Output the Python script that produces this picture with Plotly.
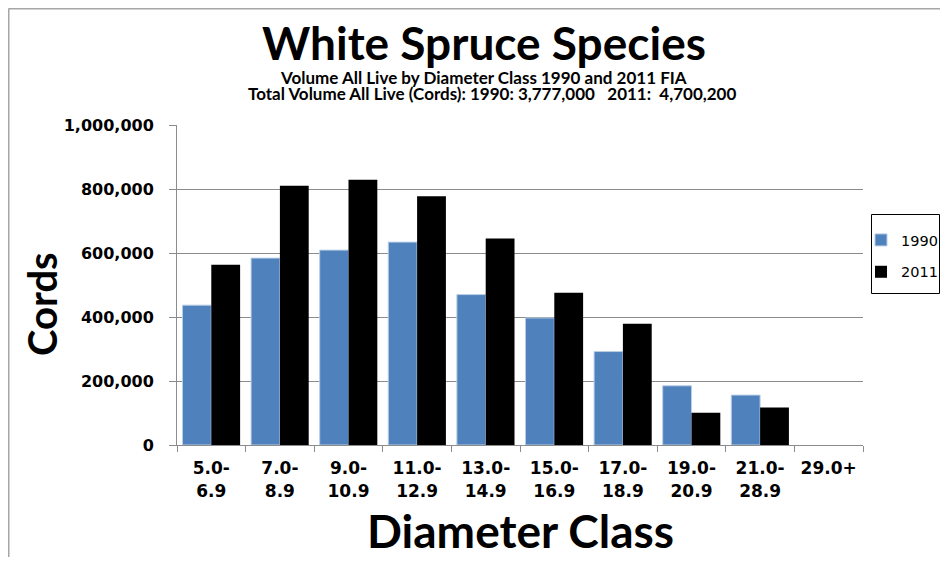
import plotly.graph_objects as go

categories = ["5.0-<br>6.9", "7.0-<br>8.9", "9.0-<br>10.9", "11.0-<br>12.9", "13.0-<br>14.9",
              "15.0-<br>16.9", "17.0-<br>18.9", "19.0-<br>20.9", "21.0-<br>28.9", "29.0+"]
vol_1990 = [437000, 584000, 609000, 634000, 470000, 397000, 292000, 185000, 156000, 0]
vol_2011 = [563000, 810000, 829000, 777000, 645000, 476000, 379000, 101000, 117000, 0]
y_ticks = [0, 200000, 400000, 600000, 800000, 1000000]
y_tick_text = ["0", "200,000", "400,000", "600,000", "800,000", "1,000,000"]

W, H = 932, 549
OFF = 8  # page body margin
L, R, T, B = 169, 77, 117, 112
PW, PH = W - L - R, H - T - B

def px(x):  # screen x -> paper
    return (x - OFF - L) / PW

def py(y):  # screen y -> paper
    return (H - B - (y - OFF)) / PH

TITLE_FONT = "Lato"
TICK_FONT = "DejaVu Sans"

fig = go.Figure()
fig.add_trace(go.Bar(x=categories, y=vol_1990, name="1990", legendgroup="a",
                     marker=dict(color="#4F81BD",
                                 line=dict(color="#B9CDE5", width=[1 if v > 0 else 0 for v in vol_1990]))))
fig.add_trace(go.Bar(x=categories, y=vol_2011, name="2011", legendgroup="b",
                     marker=dict(color="#000000", line=dict(width=0))))

fig.update_layout(
    width=W, height=H,
    margin=dict(l=L, r=R, t=T, b=B, autoexpand=False),
    paper_bgcolor="white", plot_bgcolor="white",
    barmode="group", bargap=0.16, bargroupgap=0,
    showlegend=True,
    legend=dict(x=px(861), xanchor="left", y=py(224), yanchor="top",
                borderwidth=0, bgcolor="rgba(0,0,0,0)",
                font=dict(family=TICK_FONT, size=14.5, color="black"),
                tracegroupgap=10, itemwidth=30),
    xaxis=dict(showline=True, linecolor="#8c8c8c", linewidth=1,
               ticks="outside", tickson="boundaries", ticklen=6, tickcolor="#8c8c8c",
               ticklabelstandoff=8,
               tickfont=dict(family=TICK_FONT, size=17, color="black", weight="bold"),
               showgrid=False, fixedrange=True),
    yaxis=dict(range=[0, 1000000], tickvals=y_ticks, ticktext=y_tick_text,
               showline=True, linecolor="#8c8c8c", linewidth=1,
               ticks="outside", ticklen=7, tickcolor="#8c8c8c",
               ticklabelstandoff=12,
               tickfont=dict(family=TICK_FONT, size=16, color="black", weight="bold"),
               showgrid=True, gridcolor="#8c8c8c", gridwidth=1,
               zeroline=False, fixedrange=True),
)

annos = [
    dict(text="<b>White Spruce Species</b>", x=px(484), y=py(42), size=46),
    dict(text="<b>Volume All Live by Diameter Class 1990 and 2011 FIA</b>", x=px(483), y=py(77), size=17),
    dict(text="<b>Total Volume All Live (Cords): 1990:\u00a03,777,000\u00a0\u00a0\u00a02011:\u00a0\u00a04,700,200</b>",
         x=px(492), y=py(94), size=17),
    dict(text="<b>Diameter Class</b>", x=px(520), y=py(530), size=46),
]
for a in annos:
    fig.add_annotation(text=a["text"], x=a["x"], y=a["y"], xref="paper", yref="paper",
                       xanchor="center", yanchor="middle", showarrow=False,
                       font=dict(family=TITLE_FONT, size=a["size"], color="black"))
fig.add_annotation(text="<b>Cords</b>", x=px(42), y=py(304), xref="paper", yref="paper",
                   xanchor="center", yanchor="middle", showarrow=False, textangle=-90,
                   font=dict(family=TITLE_FONT, size=40, color="black"))

# legend frame
fig.add_shape(type="rect", xref="paper", yref="paper", x0=px(871.5), x1=px(939.5), y0=py(214.5), y1=py(293.5),
              line=dict(color="#000000", width=1), fillcolor="white", layer="below")
# outer chart frame (top and left edges visible)
fig.add_shape(type="line", xref="paper", yref="paper", x0=px(8.5), x1=px(W + OFF), y0=py(8.5), y1=py(8.5),
              line=dict(color="#a6a6a6", width=2))
fig.add_shape(type="line", xref="paper", yref="paper", x0=px(8.5), x1=px(8.5), y0=py(8.5), y1=py(H + OFF),
              line=dict(color="#a6a6a6", width=2))

fig.write_html("out.html")
